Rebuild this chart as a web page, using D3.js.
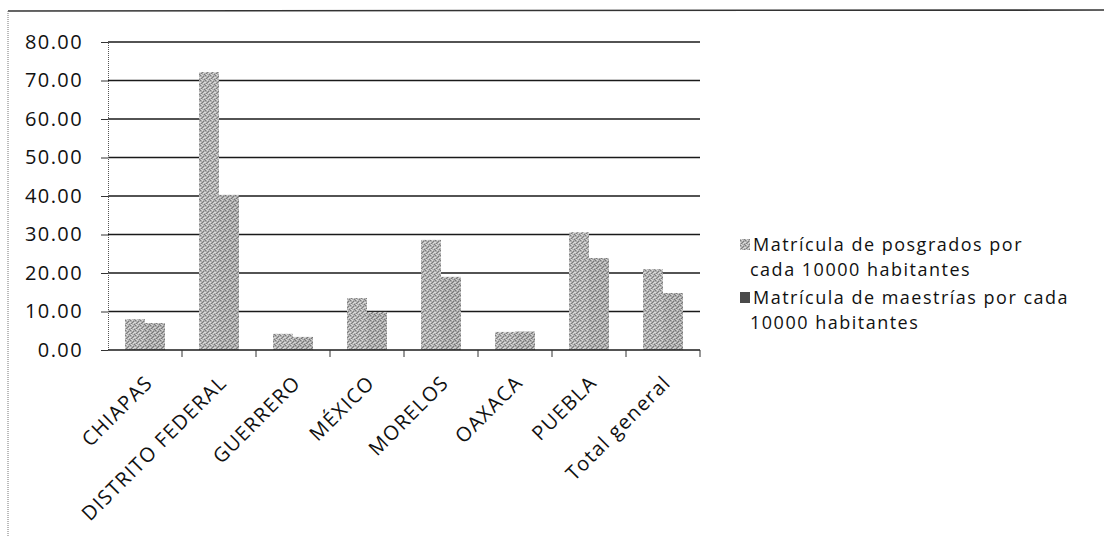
<!DOCTYPE html>
<html><head><meta charset="utf-8">
<script src="https://cdn.jsdelivr.net/npm/d3@7/dist/d3.min.js"></script>
<style>
html,body{margin:0;padding:0;background:#fff;}
text{font-family:"Open Sans",sans-serif;fill:#111;}
</style></head>
<body><svg id="c" width="1104" height="536"></svg>
<script>
const categories = ["CHIAPAS","DISTRITO FEDERAL","GUERRERO","MÉXICO","MORELOS","OAXACA","PUEBLA","Total general"];
const posgrados = [8.0, 72.2, 4.2, 13.5, 28.6, 4.7, 30.6, 21.0];
const maestrias = [7.0, 40.3, 3.4, 9.9, 19.0, 4.8, 23.9, 14.8];
const seriesNames = ["Matrícula de posgrados por cada 10000 habitantes","Matrícula de maestrías por cada 10000 habitantes"];
const legendLines = [["Matrícula de posgrados por","cada 10000 habitantes"],["Matrícula de maestrías por cada","10000 habitantes"]];
const yTicks = [0,10,20,30,40,50,60,70,80];

const svg = d3.select("#c");
const defs = svg.append("defs");
function pat(id, base, dark, light){
  const p = defs.append("pattern").attr("id",id).attr("width",5).attr("height",5).attr("patternUnits","userSpaceOnUse");
  p.append("rect").attr("width",5).attr("height",5).attr("fill",base);
  [[0,0],[3,1],[1,3],[4,4],[2,2]].forEach(([a,b])=>p.append("rect").attr("x",a).attr("y",b).attr("width",1).attr("height",1).attr("fill",dark));
  [[2,0],[0,2],[4,2],[1,4],[3,3]].forEach(([a,b])=>p.append("rect").attr("x",a).attr("y",b).attr("width",1).attr("height",1).attr("fill",light));
}
pat("p1","#b0b0b0","#7c7c7c","#dcdcdc");
pat("p2","#a9a9a9","#767676","#d4d4d4");
const fills = ["url(#p1)","url(#p2)"];
const legendFills = ["url(#p1)","#4a4a4a"];

// frame
svg.append("line").attr("x1",8).attr("x2",1104).attr("y1",11).attr("y2",10).attr("stroke","#333").attr("stroke-width",1.6);
svg.append("line").attr("x1",8).attr("x2",8).attr("y1",11).attr("y2",536).attr("stroke","#777").attr("stroke-dasharray","1,1");

const x0 = 108, x1 = 700, yTop = 42, yBot = 350;
const x = d3.scaleBand().domain(categories).range([x0,x1]).paddingInner(0.46).paddingOuter(0.23);
const y = d3.scaleLinear().domain([0,80]).range([yBot,yTop]);
const xs = d3.scaleBand().domain([0,1]).range([0,x.bandwidth()]);

// gridlines
svg.append("g").selectAll("line").data(yTicks.filter(d=>d>0)).join("line")
  .attr("x1",x0).attr("x2",x1).attr("y1",d=>y(d)).attr("y2",d=>y(d))
  .attr("stroke","#1a1a1a").attr("stroke-width",1.6);

// y axis
const ya = svg.append("g").attr("transform",`translate(${x0},0)`)
  .call(d3.axisLeft(y).tickValues(yTicks).tickFormat(d3.format(".2f")).tickSize(7).tickPadding(18));
ya.select(".domain").attr("stroke","#555").attr("stroke-dasharray","1,1");
ya.selectAll(".tick line").attr("stroke","#333");
ya.selectAll("text").style("font-family","'Open Sans',sans-serif").style("font-size","20px")
  .style("letter-spacing","1.4px").attr("fill","#111");

// bars
const series = [posgrados, maestrias];
series.forEach((vals,si)=>{
  svg.append("g").selectAll("rect").data(categories).join("rect")
    .attr("x",(c)=>x(c)+xs(si)).attr("width",xs.bandwidth())
    .attr("y",(c,i)=>y(vals[i])).attr("height",(c,i)=>y(0)-y(vals[i]))
    .attr("fill",fills[si]);
});

// x axis
const xa = svg.append("g").attr("transform",`translate(0,${yBot})`);
xa.append("line").attr("x1",x0).attr("x2",x1).attr("y1",0).attr("y2",0).attr("stroke","#1a1a1a").attr("stroke-width",1.6);
const bounds = d3.range(categories.length+1).map(i=>x0+i*(x1-x0)/categories.length);
xa.selectAll("line.tk").data(bounds.slice(1)).join("line").attr("class","tk")
  .attr("x1",d=>d).attr("x2",d=>d).attr("y1",0).attr("y2",7).attr("stroke","#333");
xa.selectAll("text").data(categories).join("text")
  .attr("transform",c=>`translate(${x(c)+x.bandwidth()/2+9},34) rotate(-45)`)
  .attr("text-anchor","end").style("font-size","20px").style("letter-spacing","1.3px").text(c=>c);

// legend
const lg = svg.append("g");
legendLines.forEach((lines,i)=>{
  const by = 251 + i*53;
  lg.append("rect").attr("x",740).attr("y",by-12).attr("width",10).attr("height",11).attr("fill",legendFills[i]);
  const t = lg.append("text").attr("y",by).style("font-size","18px").style("letter-spacing","1.5px");
  lines.forEach((s,j)=>{
    t.append("tspan").attr("x",j===0?753:750).attr("y",by+j*25).text(s);
  });
});
</script></body></html>
